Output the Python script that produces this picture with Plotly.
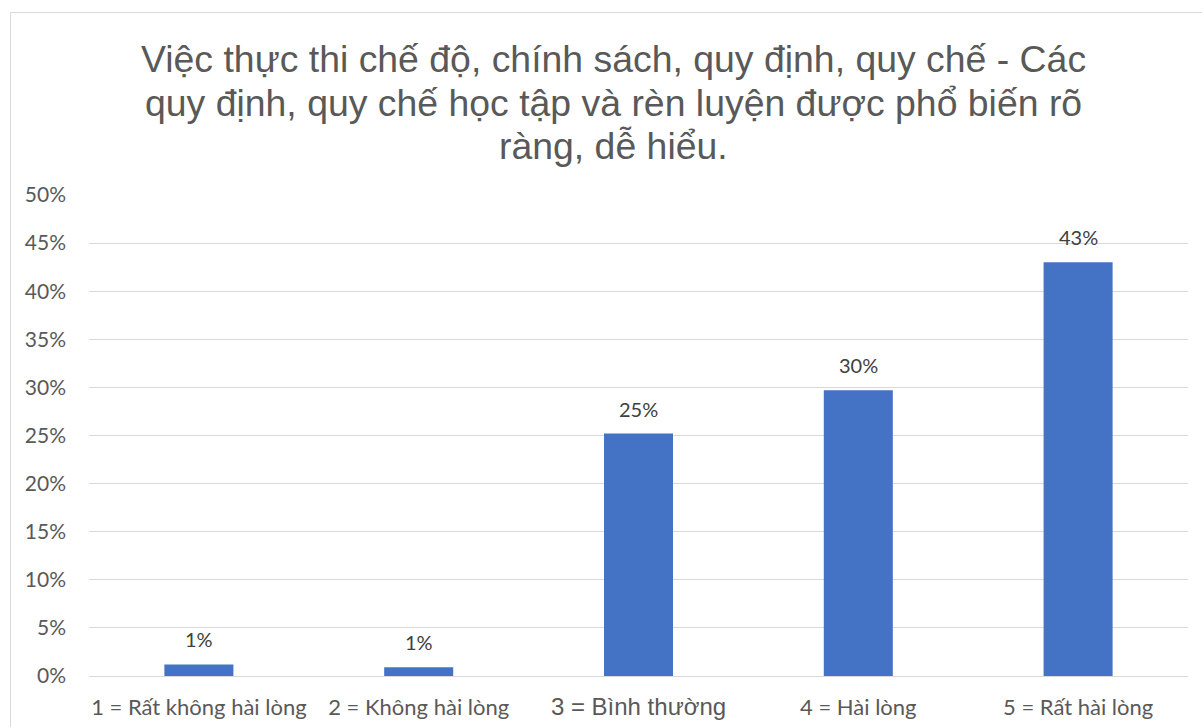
import plotly.graph_objects as go

categories = ["1 = Rất không hài lòng", "2 = Không hài lòng", "3 = Bình thường", "4 = Hài lòng", "5 = Rất hài lòng"]
values = [0.012, 0.009, 0.252, 0.297, 0.430]
value_labels = ["1%", "1%", "25%", "30%", "43%"]
title_lines = [
    "Việc thực thi chế độ, chính sách, quy định, quy chế - Các",
    "quy định, quy chế học tập và rèn luyện được phổ biến rõ",
    "ràng, dễ hiểu.",
]
y_ticks = [i / 100 for i in range(0, 55, 5)]

tick_text = []
for c in categories:
    if c.startswith("3 ="):
        tick_text.append('<span style="font-family:Liberation Sans;font-size:24px">' + c + "</span>")
    else:
        tick_text.append(c)

W, H = 1202, 727
ml = 89
mr = W - 1188
mt = 195
mb = H - 676
pw, ph = W - ml - mr, H - mt - mb

fig = go.Figure()
fig.add_trace(go.Bar(
    x=categories, y=values,
    marker=dict(color="#4472C4", line=dict(width=0)),
    width=0.314,
    hoverinfo="skip",
))

for c, v, t in zip(categories, values, value_labels):
    fig.add_annotation(x=c, y=v, xref="x", yref="y", text=t, showarrow=False,
                       yanchor="middle", yshift=25,
                       font=dict(family="Lato", size=20, color="#404040"))

title_y_px = [59, 103, 146]
for line, ypx in zip(title_lines, title_y_px):
    fig.add_annotation(x=(613 - ml) / pw, y=(H - mb - ypx) / ph,
                       xref="paper", yref="paper", text=line, showarrow=False,
                       xanchor="center", yanchor="middle",
                       font=dict(family="Liberation Sans", size=37.4, color="#595959"))

fig.add_shape(type="rect", xref="paper", yref="paper",
              x0=(10.5 - ml) / pw, x1=1.2, y0=-0.5, y1=(H - mb - 12.5) / ph,
              line=dict(color="#d9d9d9", width=1), fillcolor="rgba(0,0,0,0)", layer="below")

fig.update_layout(
    width=W, height=H,
    margin=dict(l=ml, r=mr, t=mt, b=mb, pad=0, autoexpand=False),
    paper_bgcolor="white", plot_bgcolor="white",
    showlegend=False,
    bargap=0.686,
    xaxis=dict(
        type="category", tickmode="array", tickvals=categories, ticktext=tick_text,
        showgrid=False, showline=False, zeroline=False, ticks="",
        automargin=False,
        ticklabelstandoff=16,
        tickfont=dict(family="Lato", size=22, color="#595959"),
        range=[-0.5, 4.5], fixedrange=True,
    ),
    yaxis=dict(
        range=[0, 0.5], tickmode="array", tickvals=y_ticks, tickformat=".0%",
        showgrid=True, gridcolor="#d9d9d9", gridwidth=1,
        zeroline=True, zerolinecolor="#d9d9d9", zerolinewidth=1,
        showline=False, ticks="",
        automargin=False,
        ticklabelstandoff=22,
        tickfont=dict(family="Lato", size=21, color="#595959"),
        fixedrange=True,
    ),
)

fig.write_html(
    "out.html",
    config={"displayModeBar": False, "responsive": False},
    post_script="document.body.style.margin='0';document.body.style.overflow='hidden';",
)
